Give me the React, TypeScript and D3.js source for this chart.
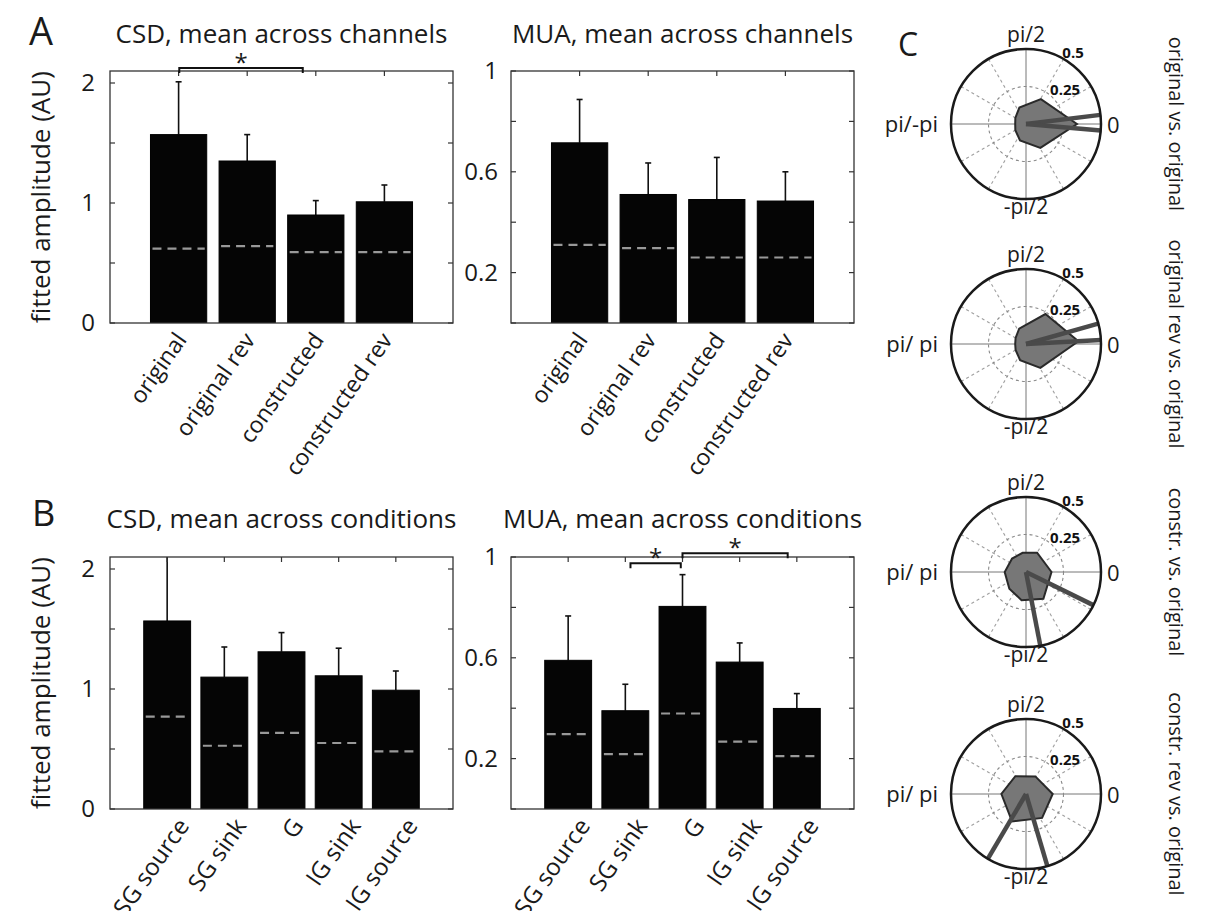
import React from 'react';
import * as d3 from 'd3';

// ---------- DATA ----------
const channelCats = ['original', 'original rev', 'constructed', 'constructed rev'];
const conditionCats = ['SG source', 'SG sink', 'G', 'IG sink', 'IG source'];

const csdChannelMean = [1.57, 1.35, 0.9, 1.01];
const csdChannelErr = [2.01, 1.57, 1.02, 1.15];
const csdChannelBase = [0.62, 0.64, 0.59, 0.59];

const muaChannelMean = [0.715, 0.51, 0.49, 0.484];
const muaChannelErr = [0.887, 0.635, 0.657, 0.6];
const muaChannelBase = [0.31, 0.297, 0.26, 0.26];

const csdConditionMean = [1.567, 1.099, 1.31, 1.11, 0.99];
const csdConditionErr = [2.3, 1.35, 1.47, 1.34, 1.15];
const csdConditionBase = [0.77, 0.527, 0.635, 0.55, 0.48];

const muaConditionMean = [0.59, 0.39, 0.804, 0.583, 0.399];
const muaConditionErr = [0.766, 0.495, 0.93, 0.659, 0.458];
const muaConditionBase = [0.297, 0.218, 0.379, 0.267, 0.21];

const csdTicks = [0, 0.5, 1, 1.5, 2];
const csdTickLabels = ['0', '', '1', '', '2'];
const muaTicks = [0, 0.2, 0.4, 0.6, 0.8, 1];
const muaTickLabels = ['', '0.2', '', '0.6', '', '1'];

const csdChannelSig = [{ from: 1.01, to: 2.81, level: 2.125 }];
const muaConditionSig = [
  { from: 2.09, to: 2.97, level: 0.975 },
  { from: 3.0, to: 4.84, level: 1.015 },
];

const polarTitles = ['original vs. original', 'original rev vs. original', 'constr. vs. original', 'constr. rev vs. original'];
const polarLeftLabels = ['pi/-pi', 'pi/ pi', 'pi/ pi', 'pi/ pi'];
const polarRingValues = [0.25, 0.5];
const polarShape1: [number, number][] = [[0, 0.34], [59, 0.193], [112, 0.118], [150, 0.082], [180, 0.072], [210, 0.082], [250, 0.117], [301, 0.186]];
const polarShape2: [number, number][] = [[3, 0.35], [57, 0.238], [114, 0.112], [150, 0.08], [180, 0.072], [210, 0.08], [250, 0.115], [301, 0.186]];
const polarShape3: [number, number][] = [[0, 0.17], [60, 0.148], [100, 0.13], [136, 0.129], [180, 0.142], [225, 0.157], [261, 0.19], [303, 0.213]];
const polarShape4: [number, number][] = [[0, 0.178], [62, 0.133], [121, 0.138], [180, 0.164], [243, 0.205], [304, 0.192]];
const polarLines1 = [7, -5];
const polarLines2 = [15.7, 3];
const polarLines3 = [-26.2, -79];
const polarLines4 = [-120.5, -73.5];

const FONT = '"Open Sans", sans-serif';
const INK = '#1a1a1a';

type Box = { left: number; right: number; top: number; bottom: number };
type Sig = { from: number; to: number; level: number };

function BarPanel(props: {
  id: string;
  box: Box;
  cats: string[];
  mean: number[];
  err: number[];
  base: number[];
  yMax: number;
  ticks: number[];
  tickLabels: string[];
  title: string;
  titleY: number;
  ylabel?: string;
  labelDx: number;
  labelDy: number;
  labelSize: number;
  tickLabelGap: number;
  sig?: Sig[];
}) {
  const { id, box, cats, mean, err, base, yMax, ticks, tickLabels, title, titleY, ylabel, labelDx, labelDy, labelSize, tickLabelGap, sig } = props;
  const n = cats.length;
  const x = d3.scaleLinear().domain([0, n + 1]).range([box.left, box.right]);
  const y = d3.scaleLinear().domain([0, yMax]).range([box.bottom, box.top]);
  const bw = x(0.82) - x(0);
  const tl = 5;
  return (
    <g>
      <defs>
        <clipPath id={`clip-${id}`}>
          <rect x={box.left} y={box.top} width={box.right - box.left} height={box.bottom - box.top} />
        </clipPath>
      </defs>
      <text x={(box.left + box.right) / 2} y={titleY} textAnchor="middle" fontSize={26} fill={INK} fontFamily={FONT}>
        {title}
      </text>
      <g clipPath={`url(#clip-${id})`}>
        {cats.map((c, i) => {
          const cx = x(i + 1);
          return (
            <g key={c}>
              <line x1={cx} x2={cx} y1={y(mean[i])} y2={y(err[i])} stroke="#111" strokeWidth={1.6} />
              <line x1={cx - 3} x2={cx + 3} y1={y(err[i])} y2={y(err[i])} stroke="#111" strokeWidth={1.6} />
              <rect x={cx - bw / 2} y={y(mean[i])} width={bw} height={y(0) - y(mean[i])} fill="#050505" stroke="#000" strokeWidth={1} />
              <line x1={cx - bw / 2 + 2} x2={cx + bw / 2 - 2} y1={y(base[i])} y2={y(base[i])} stroke="#999" strokeWidth={2.2} strokeDasharray="9,6" />
            </g>
          );
        })}
      </g>
      <rect x={box.left} y={box.top} width={box.right - box.left} height={box.bottom - box.top} fill="none" stroke="#333" strokeWidth={1.3} />
      {ticks.map((t, i) => (
        <g key={`t${i}`}>
          <line x1={box.left} x2={box.left + tl} y1={y(t)} y2={y(t)} stroke="#333" strokeWidth={1.2} />
          <line x1={box.right} x2={box.right - tl} y1={y(t)} y2={y(t)} stroke="#333" strokeWidth={1.2} />
          {tickLabels[i] && (
            <text x={box.left - tickLabelGap} y={y(t)} dy="0.35em" textAnchor="end" fontSize={24} fill={INK} fontFamily={FONT}>
              {tickLabels[i]}
            </text>
          )}
        </g>
      ))}
      {cats.map((c, i) => (
        <line key={`xt${i}`} x1={x(i + 1)} x2={x(i + 1)} y1={box.top} y2={box.top + tl} stroke="#333" strokeWidth={1.2} />
      ))}
      {cats.map((c, i) => {
        const ax = x(i + 1) + labelDx;
        const ay = box.bottom + labelDy;
        return (
          <text key={`xl${i}`} x={ax} y={ay} textAnchor="end" fontSize={labelSize} fill={INK} fontFamily={FONT} transform={`rotate(-55, ${ax}, ${ay})`}>
            {c}
          </text>
        );
      })}
      {ylabel && (
        <text
          x={50}
          y={(box.top + box.bottom) / 2}
          textAnchor="middle"
          fontSize={26}
          fill={INK}
          fontFamily={FONT}
          transform={`rotate(-90, 50, ${(box.top + box.bottom) / 2})`}
        >
          {ylabel}
        </text>
      )}
      {(sig || []).map((s, i) => {
        const x1 = x(s.from);
        const x2 = x(s.to);
        const yy = y(s.level);
        return (
          <g key={`s${i}`}>
            <path d={`M${x1},${yy + 5}V${yy}H${x2}V${yy + 5}`} fill="none" stroke="#111" strokeWidth={2} />
            <text x={(x1 + x2) / 2} y={yy + 3} textAnchor="middle" fontSize={24} fill={INK} fontFamily={FONT}>
              *
            </text>
          </g>
        );
      })}
    </g>
  );
}

function Polar(props: { cx: number; cy: number; R: number; shape: [number, number][]; lines: number[]; title: string; leftLabel: string }) {
  const { cx, cy, R, shape, lines, title, leftLabel } = props;
  const r = d3.scaleLinear().domain([0, 0.5]).range([0, R]);
  const pt = (deg: number, v: number): [number, number] => [
    cx + r(v) * Math.cos((deg * Math.PI) / 180),
    cy - r(v) * Math.sin((deg * Math.PI) / 180),
  ];
  const poly = (d3.line()(shape.map(([a, v]) => pt(a, v))) || '') + 'Z';
  const spokes = [30, 60, 120, 150, 210, 240, 300, 330];
  const ringLabelAngle = [50, 61];
  return (
    <g>
      {spokes.map((a) => {
        const [ex, ey] = pt(a, 0.5);
        return <line key={a} x1={cx} y1={cy} x2={ex} y2={ey} stroke="#a0a0a0" strokeWidth={1.1} strokeDasharray="3,3" />;
      })}
      <line x1={cx - R} x2={cx + R} y1={cy} y2={cy} stroke="#777" strokeWidth={1} />
      <line x1={cx} x2={cx} y1={cy - R} y2={cy + R} stroke="#777" strokeWidth={1} />
      <circle cx={cx} cy={cy} r={r(0.25)} fill="none" stroke="#8a8a8a" strokeWidth={1.1} strokeDasharray="3,3" />
      <path d={poly} fill="#777" stroke="#2a2a2a" strokeWidth={2} strokeLinejoin="miter" />
      {lines.map((a, i) => {
        const [ex, ey] = pt(a, 0.5);
        return <line key={i} x1={cx} y1={cy} x2={ex} y2={ey} stroke="#4a4a4a" strokeWidth={4.5} />;
      })}
      <circle cx={cx} cy={cy} r={R} fill="none" stroke="#1a1a1a" strokeWidth={2.5} />
      {polarRingValues.map((v, i) => {
        const [lx, ly] = pt(ringLabelAngle[i], v);
        return (
          <text key={v} x={lx} y={ly} fontSize={15} fontWeight="bold" fill="#111" fontFamily={FONT}>
            {String(v)}
          </text>
        );
      })}
      <text x={cx} y={cy - R - 7} textAnchor="middle" fontSize={21} fill={INK} fontFamily={FONT}>pi/2</text>
      <text x={cx} y={cy + R + 15} textAnchor="middle" fontSize={21} fill={INK} fontFamily={FONT}>-pi/2</text>
      <text x={cx - R - 13} y={cy + 8} textAnchor="end" fontSize={22} fill={INK} fontFamily={FONT}>{leftLabel}</text>
      <text x={cx + R + 6} y={cy + 9} textAnchor="start" fontSize={22} fill={INK} fontFamily={FONT}>0</text>
      <text x={1169} y={cy} textAnchor="middle" fontSize={20} fill={INK} fontFamily={FONT} transform={`rotate(90, 1169, ${cy})`}>
        {title}
      </text>
    </g>
  );
}

export default function App() {
  const shapes = [polarShape1, polarShape2, polarShape3, polarShape4];
  const lines = [polarLines1, polarLines2, polarLines3, polarLines4];
  const centersY = [124, 344, 572, 794];
  return (
    <svg width={1208} height={911} style={{ position: 'absolute', left: 0, top: 0, background: '#fff' }}>
      <rect x={0} y={0} width={1208} height={911} fill="#fff" />
      <text x={29} y={45} fontSize={38} fill={INK} fontFamily={FONT}>A</text>
      <text x={32} y={526} fontSize={36} fill={INK} fontFamily={FONT}>B</text>
      <text x={898} y={56} fontSize={32} fill={INK} fontFamily={FONT}>C</text>

      <BarPanel
        id="a1"
        box={{ left: 110, right: 453, top: 71, bottom: 323 }}
        cats={channelCats}
        mean={csdChannelMean}
        err={csdChannelErr}
        base={csdChannelBase}
        yMax={2.1}
        ticks={csdTicks}
        tickLabels={csdTickLabels}
        title="CSD, mean across channels"
        titleY={43}
        ylabel="fitted amplitude (AU)"
        labelDx={9}
        labelDy={17}
        labelSize={23}
        tickLabelGap={15}
        sig={csdChannelSig}
      />
      <BarPanel
        id="a2"
        box={{ left: 511, right: 854, top: 71, bottom: 323 }}
        cats={channelCats}
        mean={muaChannelMean}
        err={muaChannelErr}
        base={muaChannelBase}
        yMax={1}
        ticks={muaTicks}
        tickLabels={muaTickLabels}
        title="MUA, mean across channels"
        titleY={43}
        labelDx={9}
        labelDy={17}
        labelSize={23}
        tickLabelGap={13}
      />
      <BarPanel
        id="b1"
        box={{ left: 110, right: 453, top: 557, bottom: 809 }}
        cats={conditionCats}
        mean={csdConditionMean}
        err={csdConditionErr}
        base={csdConditionBase}
        yMax={2.1}
        ticks={csdTicks}
        tickLabels={csdTickLabels}
        title="CSD, mean across conditions"
        titleY={528}
        ylabel="fitted amplitude (AU)"
        labelDx={23}
        labelDy={17}
        labelSize={24}
        tickLabelGap={15}
      />
      <BarPanel
        id="b2"
        box={{ left: 511, right: 854, top: 557, bottom: 809 }}
        cats={conditionCats}
        mean={muaConditionMean}
        err={muaConditionErr}
        base={muaConditionBase}
        yMax={1}
        ticks={muaTicks}
        tickLabels={muaTickLabels}
        title="MUA, mean across conditions"
        titleY={528}
        labelDx={23}
        labelDy={17}
        labelSize={24}
        tickLabelGap={13}
        sig={muaConditionSig}
      />

      {polarTitles.map((t, i) => (
        <Polar key={t} cx={1026} cy={centersY[i]} R={75} shape={shapes[i]} lines={lines[i]} title={t} leftLabel={polarLeftLabels[i]} />
      ))}
    </svg>
  );
}
